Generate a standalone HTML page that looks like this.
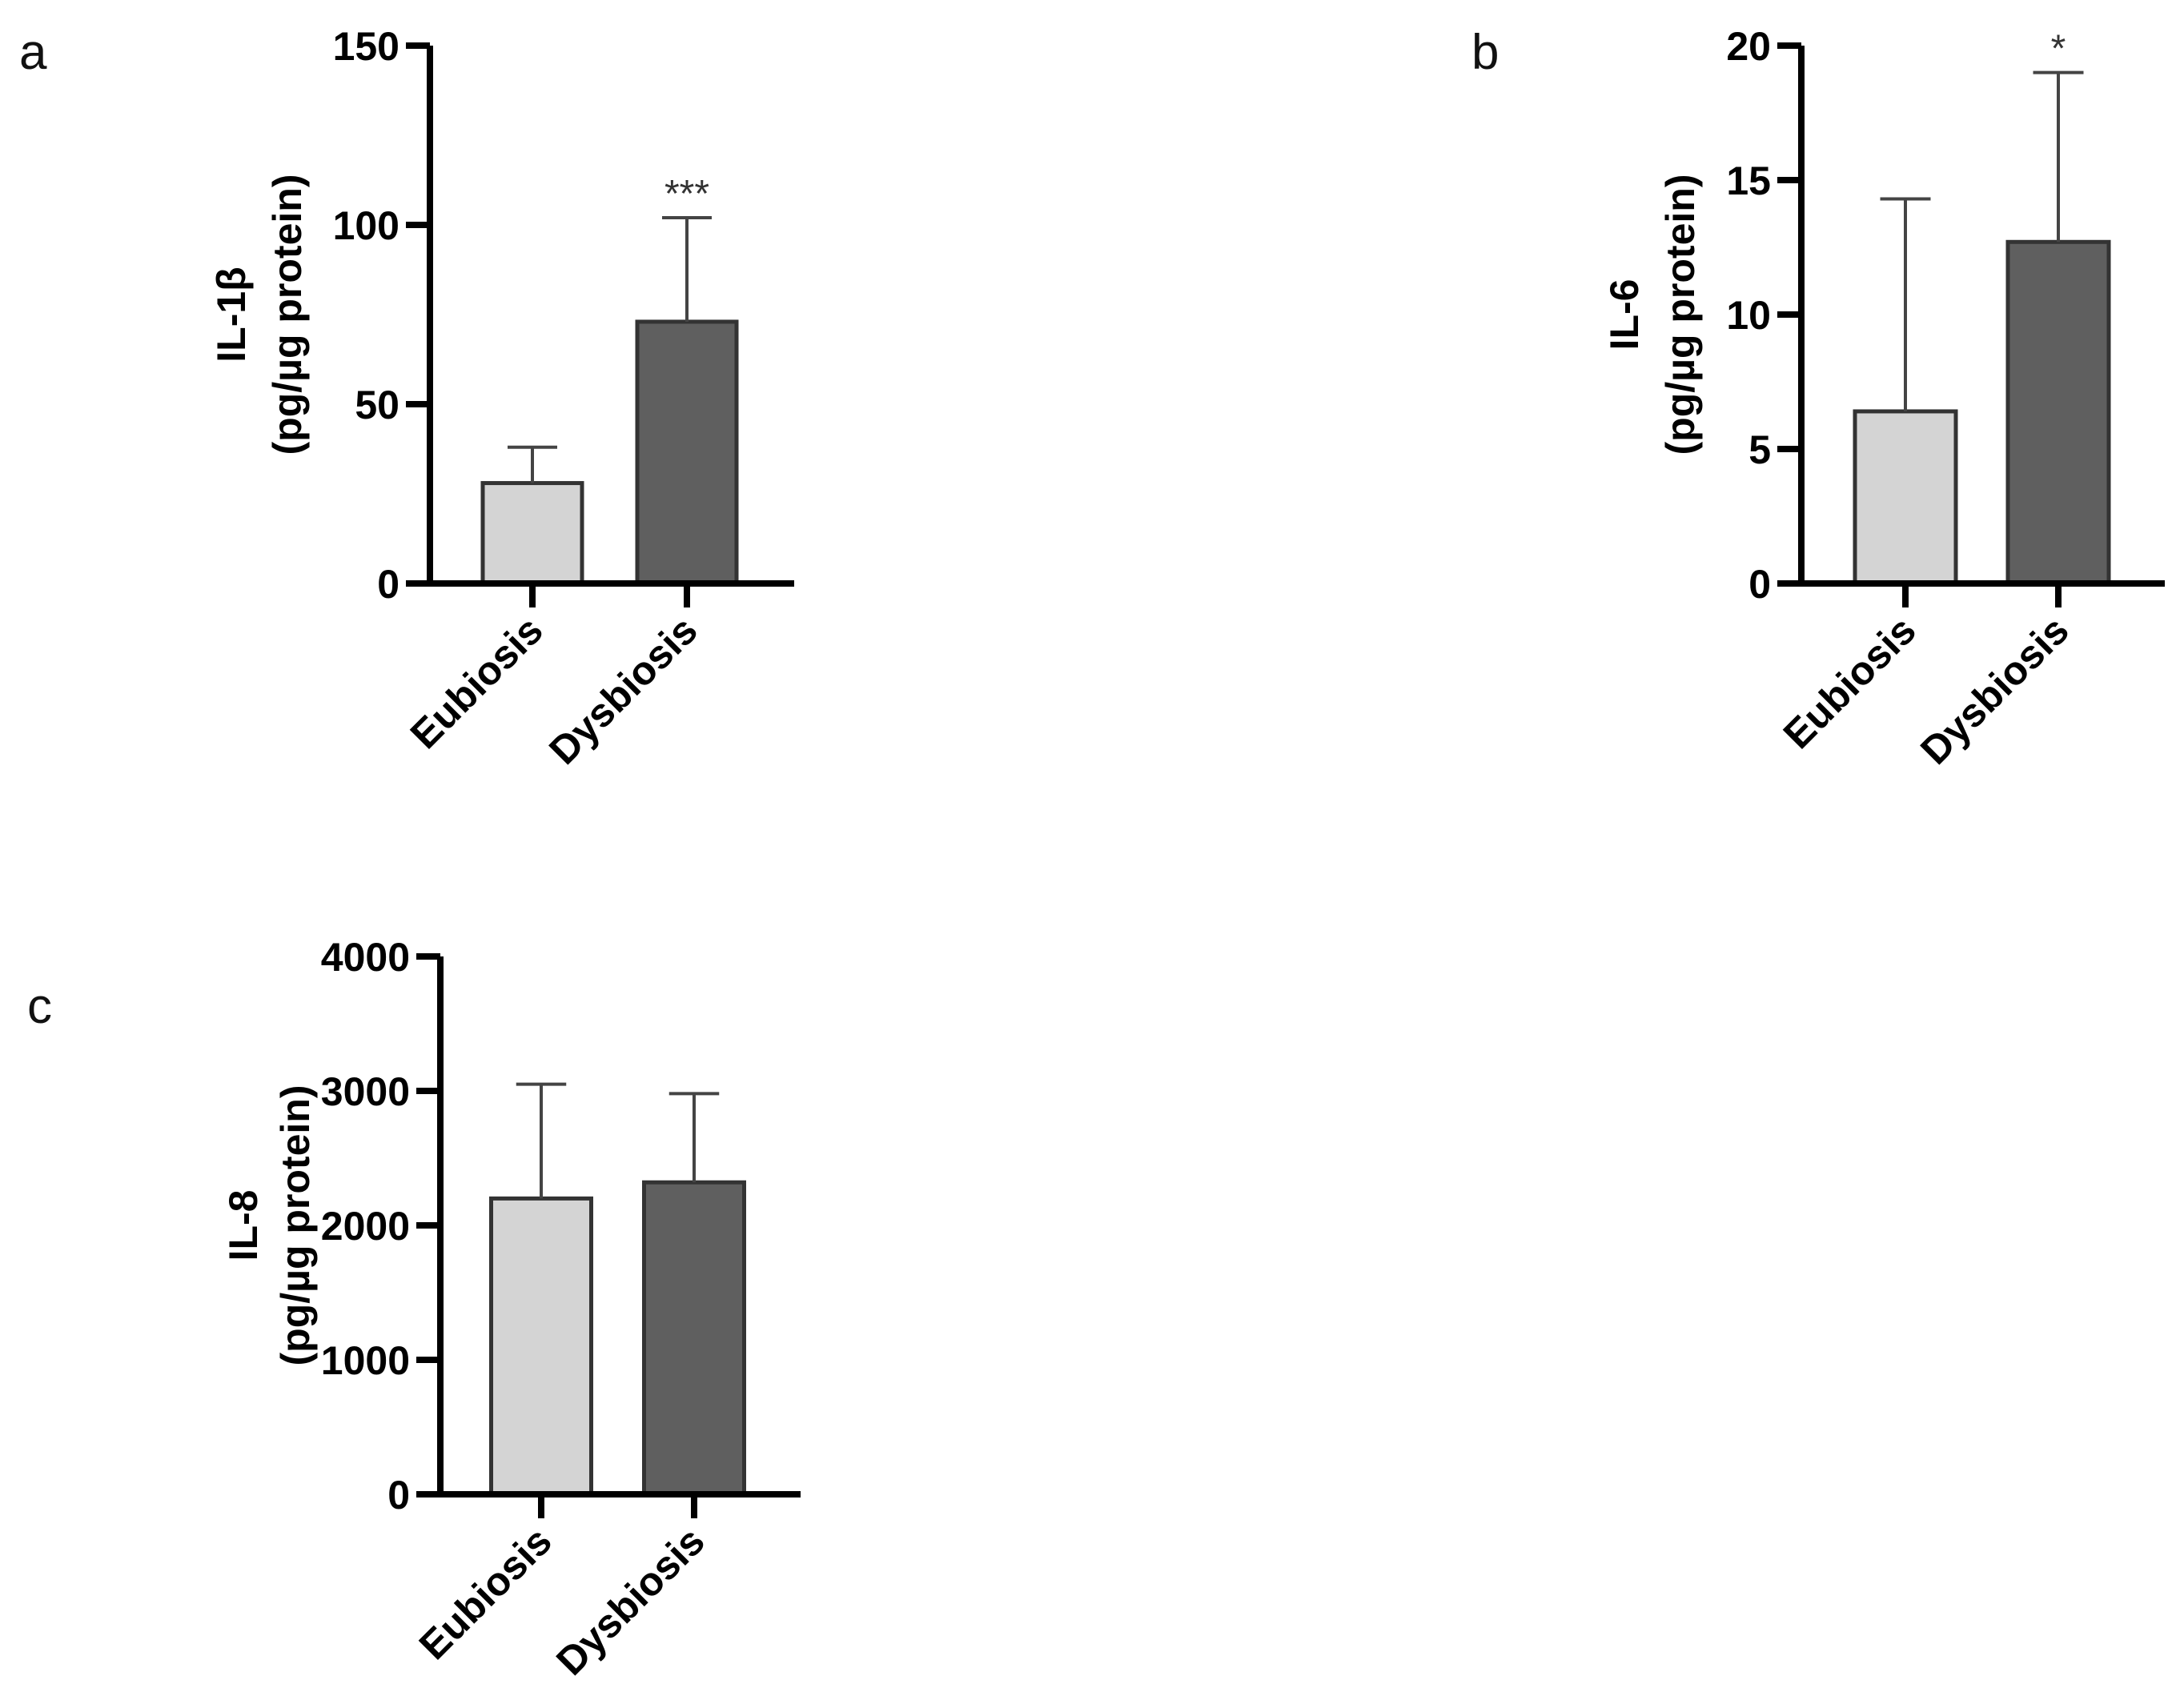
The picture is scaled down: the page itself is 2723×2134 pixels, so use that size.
<!DOCTYPE html>
<html><head><meta charset="utf-8"><style>
html,body{margin:0;padding:0;background:#fff}
svg{display:block}
text{font-family:"Liberation Sans",Arial,sans-serif}
</style></head><body>
<svg id="fig" width="2723" height="2134" viewBox="0 0 2723 2134" xmlns="http://www.w3.org/2000/svg">
<rect width="2723" height="2134" fill="#fff"/>
<text x="24" y="86" font-size="62" fill="#111">a</text>
<text x="1838" y="86" font-size="62" fill="#111">b</text>
<text x="34" y="1278" font-size="62" fill="#111">c</text>
</svg>
<script>
const categories = ["Eubiosis", "Dysbiosis"];
const aValues = [28, 73];
const aErrors = [38, 102];
const aTicks = [0, 50, 100, 150];
const aSig = ["", "***"];
const bValues = [6.4, 12.7];
const bErrors = [14.3, 19.0];
const bTicks = [0, 5, 10, 15, 20];
const bSig = ["", "*"];
const cValues = [2200, 2320];
const cErrors = [3050, 2980];
const cTicks = [0, 1000, 2000, 3000, 4000];
const cSig = ["", ""];

const NS = "http://www.w3.org/2000/svg";
const svg = document.getElementById("fig");
function mk(tag, attrs, parent) {
  const e = document.createElementNS(NS, tag);
  for (const k in attrs) e.setAttribute(k, attrs[k]);
  (parent || svg).appendChild(e);
  return e;
}
const fills = ["#d4d4d4", "#5f5f5f"];

function panel(p, id, values, errors, ticks, sig, titleLines) {
  const g = mk("g", {});
  
  
  const ymax = ticks[ticks.length - 1];
  const y = v => p.y0 - (v / ymax) * (p.y0 - p.y1);
  const x = i => p.cx[i];
  values.forEach((v, i) => {
    const r = mk("rect", {x: x(i) - p.bw / 2, y: y(v), width: p.bw, height: p.y0 - y(v), fill: fills[i], stroke: "#333", "stroke-width": 5}, g);
    
    
    const eb = mk("path", {d: `M${x(i)},${y(v)}V${y(errors[i])}M${x(i) - p.bw / 4},${y(errors[i])}H${x(i) + p.bw / 4}`, stroke: "#444", "stroke-width": 4, fill: "none"}, g);
    
    
    if (sig[i]) {
      const s = mk("text", {x: x(i), y: y(errors[i]) - 14, "font-size": 48, "text-anchor": "middle", fill: "#333"}, g);
      s.textContent = sig[i];
      
      
    }
  });
  const ya = mk("path", {d: `M${p.ax},${p.y1}V${p.y0}`, stroke: "#000", "stroke-width": 8, fill: "none"}, g);
  
  
  const xa = mk("path", {d: `M${p.ax - 30},${p.y0}H${p.xr}`, stroke: "#000", "stroke-width": 8, fill: "none"}, g);
  
  
  ticks.forEach(t => {
    mk("path", {d: `M${p.ax - 30},${y(t)}H${p.ax}`, stroke: "#000", "stroke-width": 8}, g);
    const tl = mk("text", {x: p.ax - 38, y: y(t) + 18, "font-size": 50, "font-weight": "bold", "text-anchor": "end", fill: "#000"}, g);
    tl.textContent = t;
    
    
  });
  categories.forEach((c, i) => {
    mk("path", {d: `M${x(i)},${p.y0}V${p.y0 + 30}`, stroke: "#000", "stroke-width": 8}, g);
    const tx = x(i) + 16, ty = p.y0 + 62;
    const cl = mk("text", {x: tx, y: ty, "font-size": 50, "font-weight": "bold", "text-anchor": "end", fill: "#000", transform: `rotate(-45 ${tx} ${ty})`}, g);
    cl.textContent = c;
    
    
  });
  const cy = (p.y0 + p.y1) / 2;
  titleLines.forEach((line, k) => {
    const lx = p.tx[k];
    const tt = mk("text", {x: lx, y: cy, "font-size": 50, "font-weight": "bold", "text-anchor": "middle", fill: "#000", transform: `rotate(-90 ${lx} ${cy})`}, g);
    tt.textContent = line;
    
    
  });
}

panel({ax: 537, y0: 729, y1: 57, xr: 992, cx: [665, 858], bw: 124, tx: [306, 376]}, "il1b", aValues, aErrors, aTicks, aSig, ["IL-1β", "(pg/µg protein)"]);
panel({ax: 2250, y0: 729, y1: 57, xr: 2704, cx: [2380, 2571], bw: 126, tx: [2046, 2116]}, "il6", bValues, bErrors, bTicks, bSig, ["IL-6", "(pg/µg protein)"]);
panel({ax: 550, y0: 1867, y1: 1195, xr: 1000, cx: [676, 867], bw: 125, tx: [321, 386]}, "il8", cValues, cErrors, cTicks, cSig, ["IL-8", "(pg/µg protein)"]);
</script>
</body></html>
